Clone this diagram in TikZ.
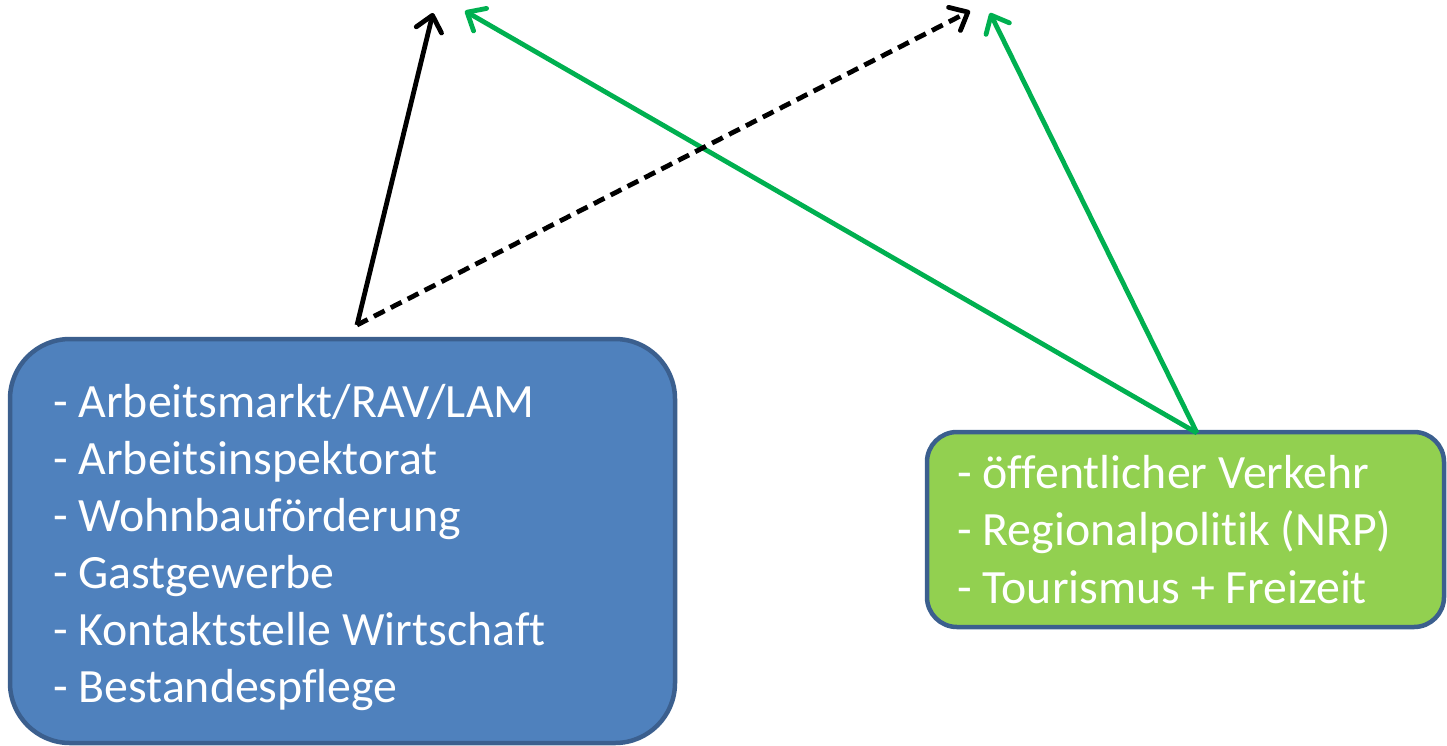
\documentclass[tikz,border=0pt]{standalone}
\usepackage{fontspec}
\setmainfont{Carlito}[Ligatures=NoCommon]
\usetikzlibrary{arrows.meta}
\definecolor{boxblue}{HTML}{4F81BD}
\definecolor{boxgreen}{HTML}{92D050}
\definecolor{edgeblue}{HTML}{3B5F8E}
\definecolor{arrgreen}{HTML}{00B050}
\tikzset{
  boxshape/.style={draw=edgeblue, line width=4.5pt, inner sep=0pt, outer sep=0pt},
  itemtext/.style={anchor=base west, inner sep=0pt, text=white, font=\fontsize{47.8}{57}\selectfont},
  conn/.style={line width=4.8pt, -{Straight Barb[length=15pt,width=26pt,round]}},
}
\begin{document}
\begin{tikzpicture}[x=1pt,y=-1pt]
\useasboundingbox (0,0) rectangle (1447,745);
% boxes
\node[boxshape, fill=boxblue, rounded corners=60pt, minimum width=665pt, minimum height=404pt] (B) at (342.5,541) {};
\node[boxshape, fill=boxgreen, rounded corners=30pt, minimum width=517pt, minimum height=195pt] (G) at (1185.5,529.5) {};
% texts
\node[itemtext] (b1) at (53,417) {- Arbeitsmarkt/RAV/LAM};
\node[itemtext] (b2) at (53,474) {- Arbeitsinspektorat};
\node[itemtext] (b3) at (53,531) {- Wohnbauförderung};
\node[itemtext] (b4) at (53,588) {- Gastgewerbe};
\node[itemtext] (b5) at (53,645) {- Kontaktstelle Wirtschaft};
\node[itemtext] (b6) at (53,702) {- Bestandespflege};
\node[itemtext] (g1) at (957,488) {- öffentlicher Verkehr};
\node[itemtext] (g2) at (957,545.5) {- Regionalpolitik (NRP)};
\node[itemtext] (g3) at (957,603) {- Tourismus + Freizeit};
% connector endpoints
\coordinate (src) at (357,325);
\coordinate (gsrc) at (1197,433);
\coordinate (t1) at (433,13);
\coordinate (t2) at (970,11);
\coordinate (t3) at (465,11);
\coordinate (t4) at (990,13);
% connectors
\draw[conn, arrgreen] (gsrc) -- (t3);
\draw[conn, arrgreen] (gsrc) -- (t4);
\draw[conn, black] (src) -- (t1);
\draw[conn, black, dash pattern=on 12pt off 7pt] (src) -- (t2);
\end{tikzpicture}
\end{document}
